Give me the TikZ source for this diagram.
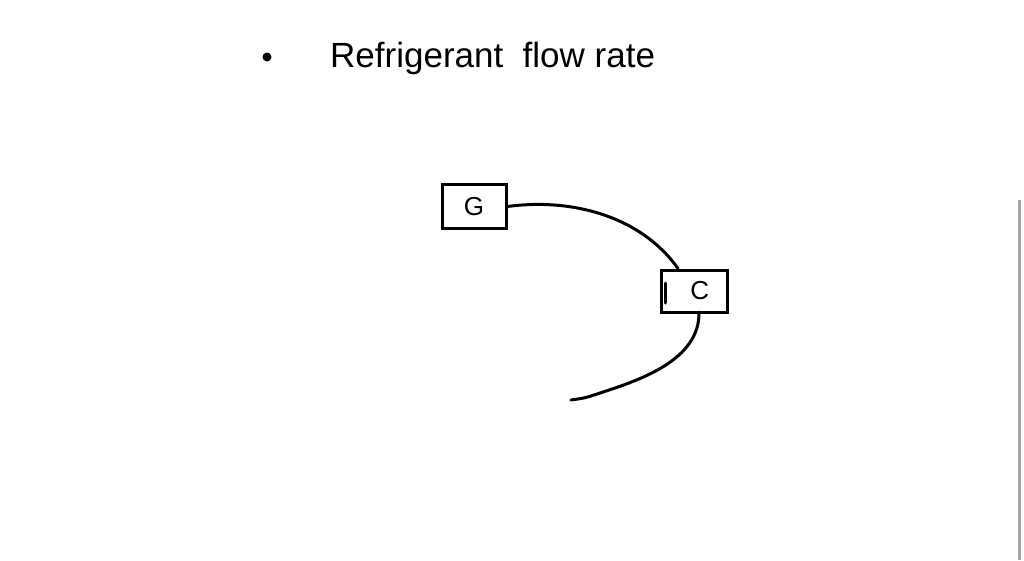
\documentclass[tikz,border=0pt]{standalone}
\usepackage{fontspec}
\setmainfont{Liberation Sans}
\begin{document}
\begin{tikzpicture}[x=1pt,y=-1pt,
  box/.style={draw,line width=3pt,minimum width=64pt,minimum height=44pt,inner sep=0pt,font=\fontsize{26}{28}\selectfont},
  wire/.style={line width=3pt,line cap=round},
  hand/.style={font=\fontsize{35}{38}\selectfont,anchor=base west,inner sep=0pt}]
\useasboundingbox[fill=white] (0,0) rectangle (1024,560);
\fill (267,57) circle (4.5pt);
\node[hand] (t) at (330,67) {Refrigerant\ \ flow rate};
\node[box] (G) at (474,206.5) {G};
\node[box,minimum width=66pt,minimum height=42pt] (C) at (694,291) {\ \,C};
\draw[wire] (665,283) -- (665,303);
\coordinate (E) at (571,400);
\draw[wire] (G.east) .. controls (570,198) and (640,215) .. (C.north west -| 678,0);
\draw[wire] (699,312) .. controls (700,360) and (640,380) .. (600,393) .. controls (585,398) .. (E);
\draw[line width=3pt,gray!70] (1019,200) -- (1019,560);
\end{tikzpicture}
\end{document}
